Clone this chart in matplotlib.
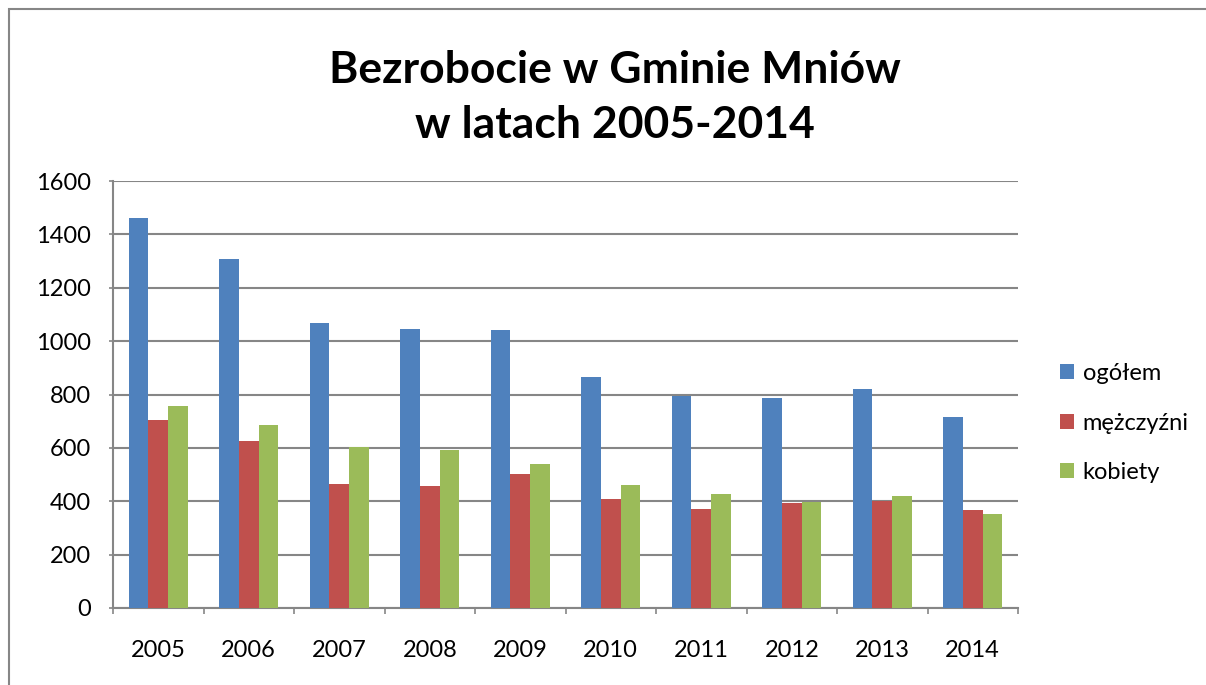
import numpy as np
import matplotlib.pyplot as plt
from matplotlib.patches import Rectangle

# dane
lata = ['2005', '2006', '2007', '2008', '2009', '2010', '2011', '2012', '2013', '2014']
ogolem = [1460, 1309, 1069, 1047, 1040, 867, 796, 786, 819, 716]
mezczyzni = [705, 624, 466, 456, 502, 407, 371, 392, 402, 366]
kobiety = [757, 684, 604, 592, 538, 460, 426, 396, 420, 352]

serie = [('ogółem', ogolem, '#4F81BD'),
         ('mężczyźni', mezczyzni, '#C0504D'),
         ('kobiety', kobiety, '#9BBB59')]

plt.rcParams['font.family'] = ['Lato', 'DejaVu Sans']
W, H = 1206, 685
fig = plt.figure(figsize=(W / 100, H / 100), dpi=100)
ax = fig.add_axes([113 / W, 1 - 608 / H, (1018 - 113) / W, (608 - 181) / H])

x = np.arange(len(lata))
bw = 0.218
for i, (nazwa, wart, kolor) in enumerate(serie):
    ax.bar(x + (i - 1) * bw, wart, bw, color=kolor, label=nazwa, zorder=3)

ax.set_xlim(-0.5, len(lata) - 0.5)
ax.set_ylim(0, 1600)
ax.set_yticks(range(0, 1601, 200))
ax.yaxis.grid(True, color='#868686', linewidth=1.5, zorder=0)

ax.set_xticks(x)
ax.set_xticklabels(lata)
ax.set_xticks(np.arange(-0.5, len(lata)), minor=True)
ax.tick_params(axis='x', which='major', length=0, pad=23, labelsize=17)
ax.tick_params(axis='x', which='minor', length=4.5, color='#868686', width=1.2)
ax.tick_params(axis='y', length=3, color='#868686', width=1.2, pad=13, labelsize=17)

for s in ['top', 'right']:
    ax.spines[s].set_visible(False)
for s in ['left', 'bottom']:
    ax.spines[s].set_color('#868686')
    ax.spines[s].set_linewidth(1.5)

fig.text(615 / W, 1 - 83 / H, 'Bezrobocie w Gminie Mniów', ha='center', va='baseline',
         fontsize=32, fontweight='bold')
fig.text(615 / W, 1 - 138 / H, 'w latach 2005-2014', ha='center', va='baseline',
         fontsize=32, fontweight='bold')

leg = fig.legend(loc='center left', bbox_to_anchor=(1039 / W, 1 - 423 / H), frameon=False,
                 fontsize=17, handlelength=0.6, handleheight=0.6, handletextpad=0.35,
                 labelspacing=1.2)

# ramka wykresu
fig.patches.append(Rectangle((9 / W, -0.1), 1.2, 1.1 - 9 / H, transform=fig.transFigure,
                             fill=False, edgecolor='#868686', linewidth=1.5))

fig.savefig('out.png', dpi=100)
